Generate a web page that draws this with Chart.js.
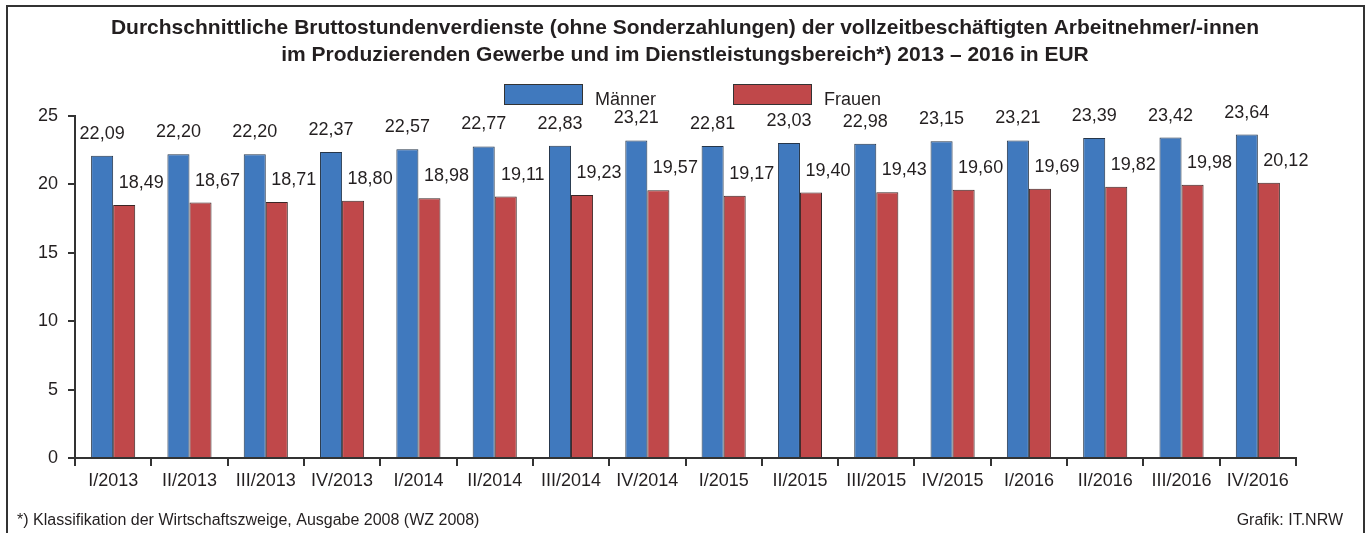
<!DOCTYPE html>
<html>
<head>
<meta charset="utf-8">
<script src="https://cdn.jsdelivr.net/npm/chart.js@4"></script>
<style>
  html, body { margin: 0; padding: 0; background: #fff; }
  #wrap { position: relative; width: 1370px; height: 533px; }
  canvas { display: block; }
</style>
</head>
<body>
<div id="wrap"><canvas id="c" width="1370" height="533"></canvas></div>
<script>
const categories = ["I/2013","II/2013","III/2013","IV/2013","I/2014","II/2014","III/2014","IV/2014","I/2015","II/2015","III/2015","IV/2015","I/2016","II/2016","III/2016","IV/2016"];
const maenner = [22.09,22.20,22.20,22.37,22.57,22.77,22.83,23.21,22.81,23.03,22.98,23.15,23.21,23.39,23.42,23.64];
const frauen  = [18.49,18.67,18.71,18.80,18.98,19.11,19.23,19.57,19.17,19.40,19.43,19.60,19.69,19.82,19.98,20.12];
const yTicks = [0,5,10,15,20,25];
const titleLines = [
  "Durchschnittliche Bruttostundenverdienste (ohne Sonderzahlungen) der vollzeitbeschäftigten Arbeitnehmer/-innen",
  "im Produzierenden Gewerbe und im Dienstleistungsbereich*) 2013 – 2016 in EUR"
];
const footnote = "*) Klassifikation der Wirtschaftszweige, Ausgabe 2008 (WZ 2008)";
const source = "Grafik: IT.NRW";

const FONT = "'Liberation Sans', Arial, sans-serif";
const TXT = "#231f20";

const decoPlugin = {
  id: "deco",
  beforeDraw(chart) {
    const ctx = chart.ctx;
    ctx.save();
    ctx.fillStyle = "#fff";
    ctx.fillRect(0, 0, chart.width, chart.height);
    // frame
    ctx.strokeStyle = "#333";
    ctx.lineWidth = 2;
    ctx.beginPath();
    ctx.moveTo(7, 540);
    ctx.lineTo(7, 6);
    ctx.lineTo(1364, 6);
    ctx.lineTo(1364, 540);
    ctx.stroke();
    // title
    ctx.fillStyle = TXT;
    ctx.font = "bold 21px " + FONT;
    ctx.textAlign = "center";
    ctx.textBaseline = "middle";
    ctx.fillText(titleLines[0], 685, 28);
    ctx.fillText(titleLines[1], 685, 55);
    // legend
    const items = [
      { label: chart.data.datasets[0].label, color: chart.data.datasets[0].backgroundColor, x: 504 },
      { label: chart.data.datasets[1].label, color: chart.data.datasets[1].backgroundColor, x: 733 }
    ];
    ctx.font = "18px " + FONT;
    ctx.textAlign = "left";
    items.forEach(it => {
      ctx.fillStyle = it.color;
      ctx.fillRect(it.x, 84, 78, 20);
      ctx.strokeStyle = "#333";
      ctx.lineWidth = 1;
      ctx.strokeRect(it.x + 0.5, 84.5, 78, 20);
      ctx.fillStyle = TXT;
      ctx.fillText(it.label, it.x + 91, 100);
    });
    // footer
    ctx.font = "16px " + FONT;
    ctx.textAlign = "left";
    ctx.fillText(footnote, 17, 521);
    ctx.textAlign = "right";
    ctx.fillText(source, 1343, 521);
    ctx.restore();
  },
  afterDatasetsDraw(chart) {
    const ctx = chart.ctx;
    ctx.save();
    ctx.font = "18px " + FONT;
    ctx.fillStyle = TXT;
    ctx.textAlign = "center";
    ctx.textBaseline = "middle";
    chart.data.datasets.forEach((ds, di) => {
      const meta = chart.getDatasetMeta(di);
      meta.data.forEach((bar, i) => {
        const txt = ds.data[i].toFixed(2).replace(".", ",");
        const dx = di === 0 ? 0 : 17;
        ctx.fillText(txt, bar.x + dx, bar.y - 22);
      });
    });
    ctx.restore();
  }
};

new Chart(document.getElementById("c"), {
  type: "bar",
  data: {
    labels: categories,
    datasets: [
      { label: "Männer", data: maenner, backgroundColor: "#4079be", borderColor: "#26364a", borderWidth: 1 },
      { label: "Frauen", data: frauen, backgroundColor: "#c0484a", borderColor: "#3a2626", borderWidth: 1 }
    ]
  },
  options: {
    responsive: false,
    animation: false,
    devicePixelRatio: 1,
    layout: { padding: { left: 0, right: 74, top: 116, bottom: 34 } },
    datasets: { bar: { categoryPercentage: 0.578, barPercentage: 1.0 } },
    plugins: {
      legend: { display: false },
      title: { display: false },
      tooltip: { enabled: false }
    },
    scales: {
      x: {
        offset: true,
        afterFit(s) { s.height = 41; },
        grid: { display: true, drawOnChartArea: false, drawTicks: true, tickLength: 8, color: "#333", lineWidth: 2, offset: true },
        border: { display: true, color: "#333", width: 2 },
        ticks: { color: TXT, font: { family: FONT, size: 18 }, padding: 4, maxRotation: 0, autoSkip: false }
      },
      y: {
        min: 0, max: 25,
        afterFit(s) { s.width = 75; },
        afterBuildTicks(s) { s.ticks = yTicks.map(v => ({ value: v })); },
        grid: { display: true, drawOnChartArea: false, drawTicks: true, tickLength: 7, color: "#333", lineWidth: 2 },
        border: { display: true, color: "#333", width: 2 },
        ticks: { color: TXT, font: { family: FONT, size: 18 }, padding: 10 }
      }
    }
  },
  plugins: [decoPlugin]
});
</script>
</body>
</html>
